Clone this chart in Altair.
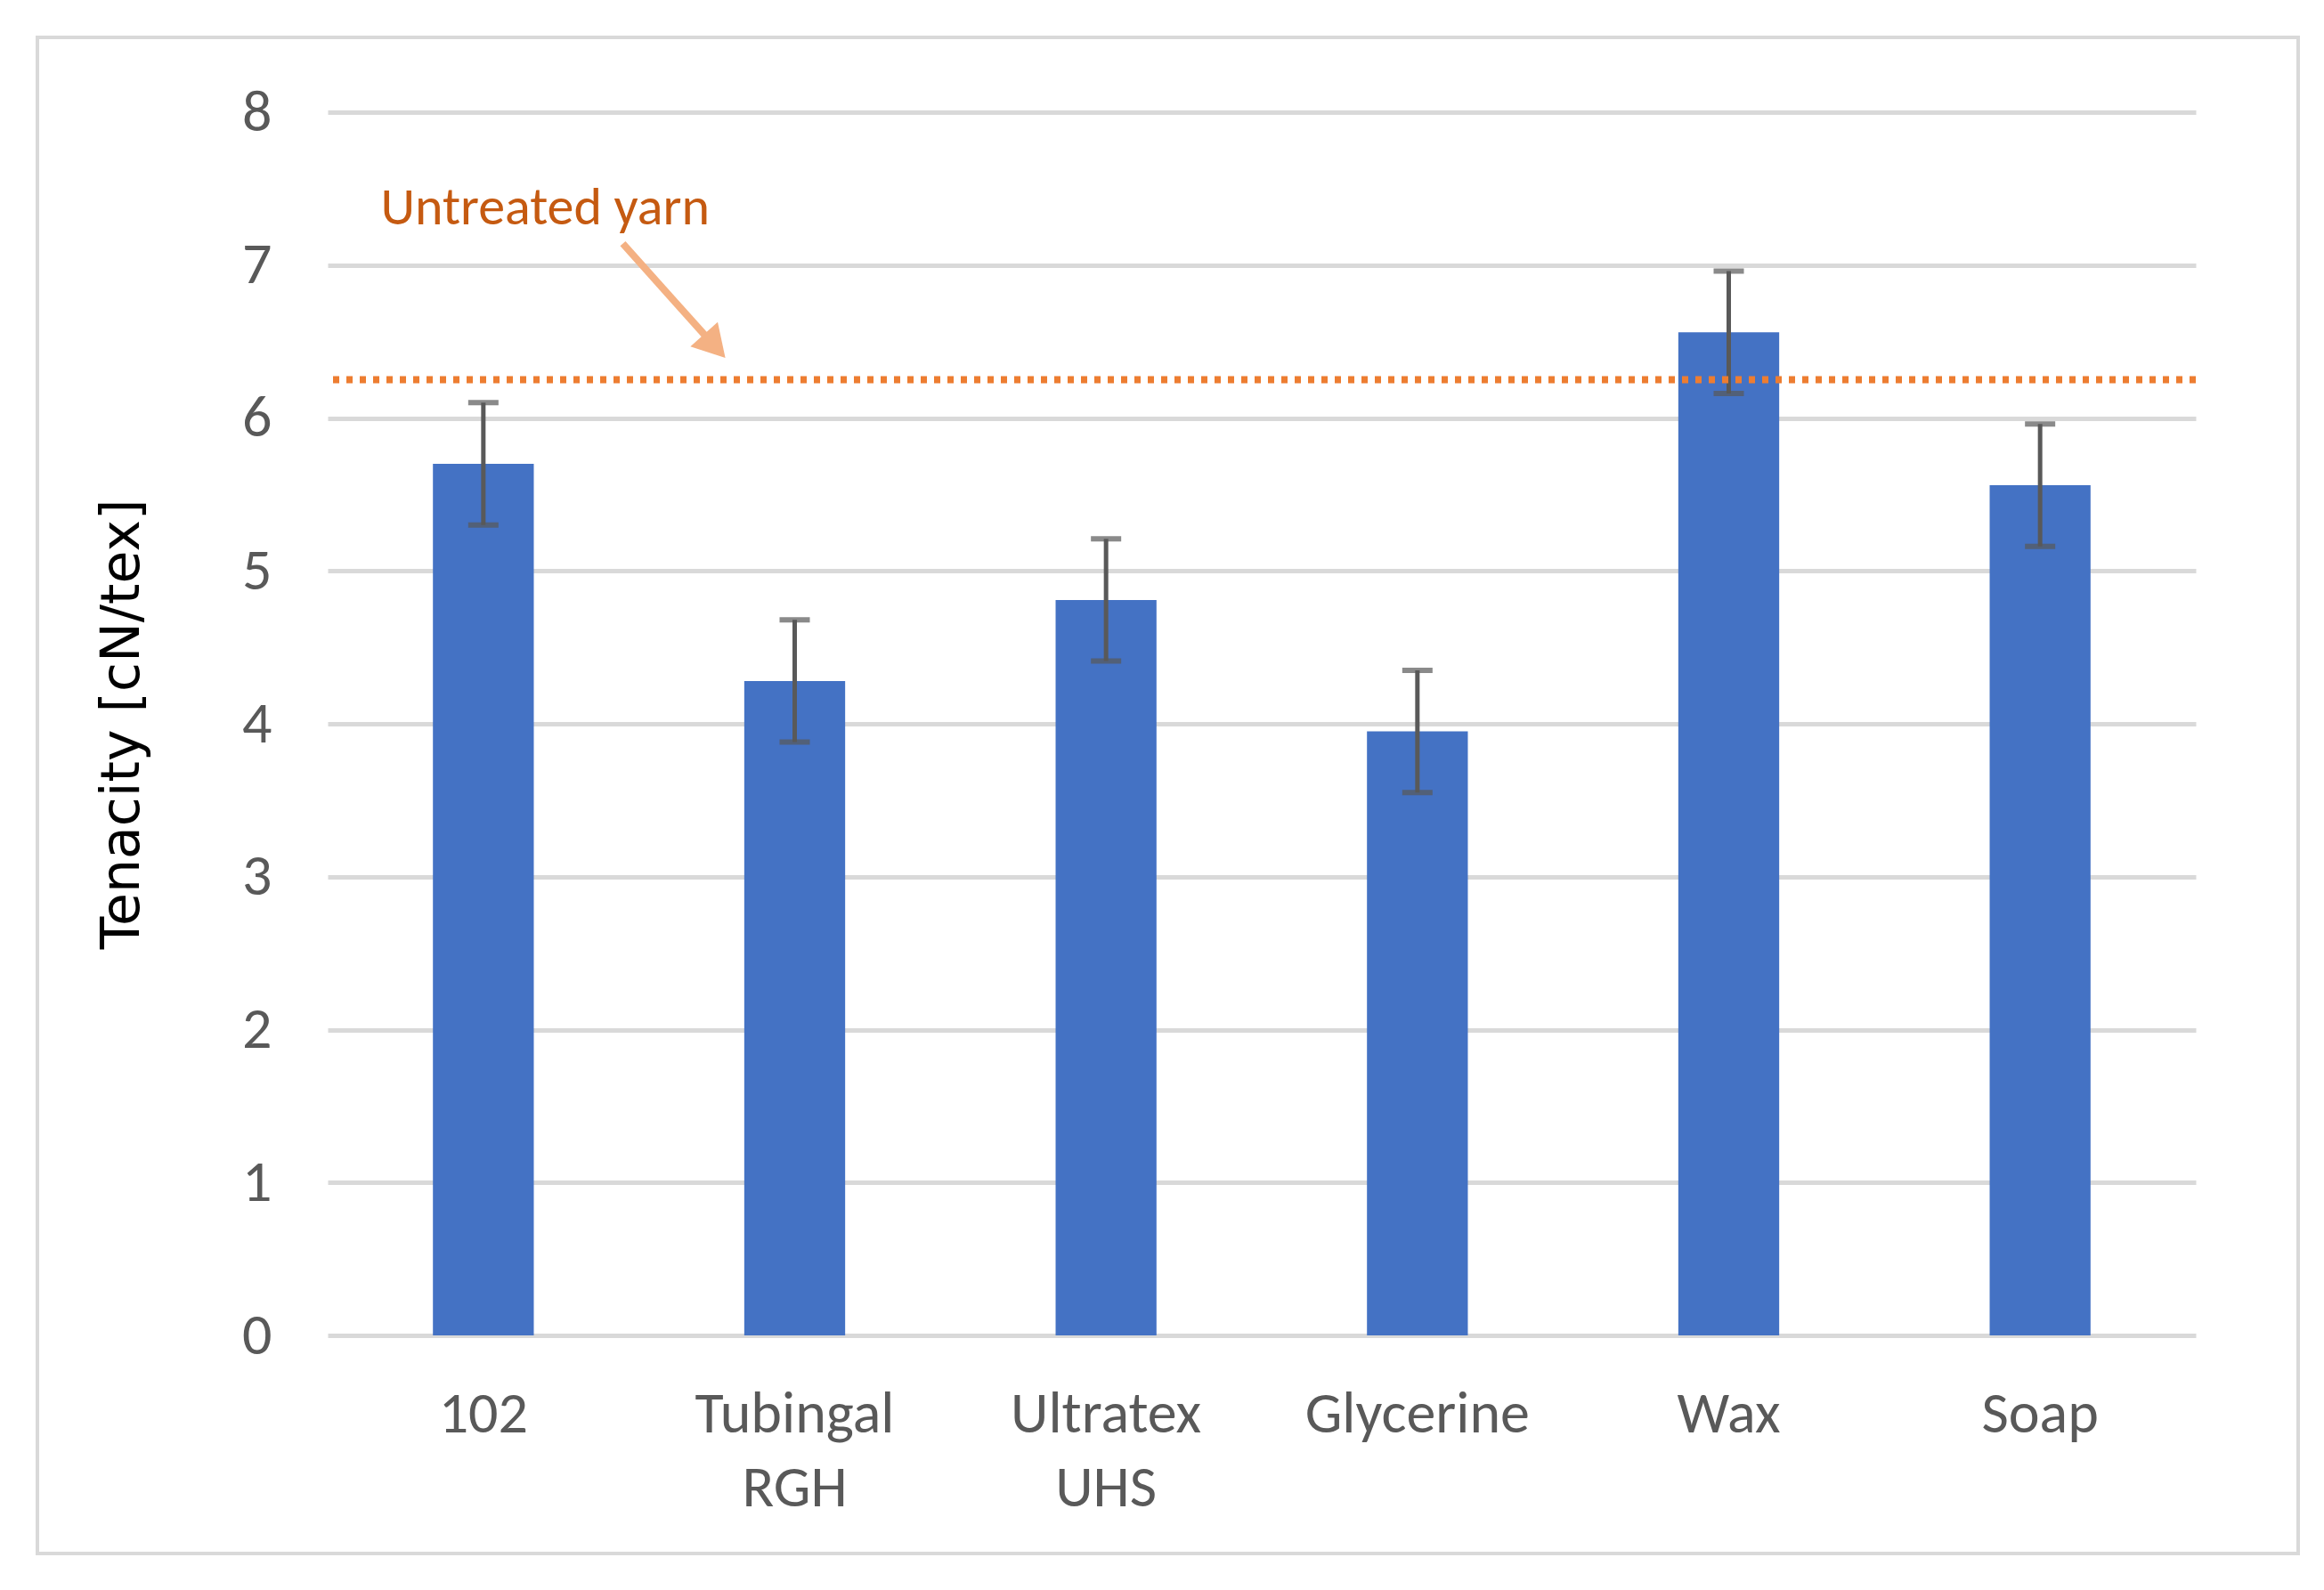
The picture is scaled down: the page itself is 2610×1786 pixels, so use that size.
import altair as alt
import pandas as pd

# ---- data ----
categories = ["102", "Tubingal RGH", "Ultratex UHS", "Glycerine", "Wax", "Soap"]
tenacity = [5.70, 4.28, 4.81, 3.95, 6.56, 5.56]
error = [0.40, 0.40, 0.40, 0.40, 0.40, 0.40]
untreated_value = 6.25
y_ticks = [0, 1, 2, 3, 4, 5, 6, 7, 8]

# annotation (in category-index units on x, data units on y)
label_text = ["Untreated yarn"]
label_x = [0.17]
label_y = [7.37]
arrow_x1, arrow_y1 = [0.948], [7.14]
arrow_x2, arrow_y2 = [1.243], [6.47]

df = pd.DataFrame({"cat": categories, "val": tenacity, "err": error})
df["lo"] = df["val"] - df["err"]
df["hi"] = df["val"] + df["err"]

W, H = 2098, 1374
LABEL_FONT = "Carlito, 'Liberation Sans Narrow', 'Open Sans', sans-serif"
GREY = "#595959"

yscale = alt.Scale(domain=[0, 8], nice=False)
xband = alt.Scale(paddingInner=0.676, paddingOuter=0.338)
xann = alt.Scale(domain=[0, 6], nice=False, zero=False)

x_enc = alt.X(
    "cat:N",
    sort=categories,
    scale=xband,
    title=None,
    axis=alt.Axis(
        labelExpr="split(datum.label, ' ')",
        labelAngle=0,
        labelFont=LABEL_FONT,
        labelFontSize=66,
        labelColor=GREY,
        labelLineHeight=83,
        labelBaseline="top",
        labelPadding=56,
        labelLimit=0,
        ticks=False,
        domain=False,
        grid=False,
    ),
)

y_axis = alt.Axis(
    values=y_ticks,
    format="d",
    title="Tenacity [cN/tex]",
    titleFont="DejaVu Sans",
    titleFontSize=60,
    titleFontWeight="normal",
    titleColor="#000000",
    titleX=-231,
    titleBaseline="middle",
    labelFont=LABEL_FONT,
    labelFontSize=66,
    labelColor=GREY,
    labelPadding=63,
    ticks=False,
    domain=False,
    grid=True,
    gridColor="#D9D9D9",
    gridWidth=5,
)

base = alt.Chart(df)

bars = base.mark_bar(color="#4472C4").encode(
    x=x_enc,
    y=alt.Y("val:Q", scale=yscale, axis=y_axis),
)

stems = base.mark_rule(color=GREY, strokeWidth=5).encode(
    x=alt.X("cat:N", sort=categories, scale=xband),
    y=alt.Y("lo:Q", scale=yscale),
    y2="hi:Q",
)

caps_lo = base.mark_tick(color=GREY, thickness=6, size=34).encode(
    x=alt.X("cat:N", sort=categories, scale=xband),
    y=alt.Y("lo:Q", scale=yscale),
)
caps_hi = base.mark_tick(color=GREY, thickness=6, size=34).encode(
    x=alt.X("cat:N", sort=categories, scale=xband),
    y=alt.Y("hi:Q", scale=yscale),
)

ref = alt.Chart(pd.DataFrame({"y": [untreated_value]})).mark_rule(
    color="#ED7D31", strokeWidth=8, strokeDash=[7, 8], strokeCap="butt"
).encode(y=alt.Y("y:Q", scale=yscale))

ann_df = pd.DataFrame({
    "x1": arrow_x1, "y1": arrow_y1, "x2": arrow_x2, "y2": arrow_y2,
})
shaft = alt.Chart(ann_df).mark_rule(color="#F4B183", strokeWidth=8).encode(
    x=alt.X("x1:Q", scale=xann, axis=None),
    x2="x2:Q",
    y=alt.Y("y1:Q", scale=yscale),
    y2="y2:Q",
)
head = alt.Chart(ann_df).mark_point(
    shape="triangle-up", filled=True, size=1700, angle=138,
    color="#F4B183", opacity=1,
).encode(
    x=alt.X("x2:Q", scale=xann, axis=None),
    y=alt.Y("y2:Q", scale=yscale),
)

label = alt.Chart(pd.DataFrame({"t": label_text, "x": label_x, "y": label_y})).mark_text(
    align="left", baseline="middle", font=LABEL_FONT, fontSize=60, color="#C55A11"
).encode(
    x=alt.X("x:Q", scale=xann, axis=None),
    y=alt.Y("y:Q", scale=yscale),
    text="t:N",
)

border = alt.Chart(pd.DataFrame({"a": [0]})).mark_rect(
    fill=None, fillOpacity=0, stroke="#D9D9D9", strokeWidth=4
).encode(
    x=alt.value(-326), x2=alt.value(2213), y=alt.value(-84), y2=alt.value(1619)
)

main = alt.layer(bars, stems, caps_lo, caps_hi, ref)
ann = alt.layer(shaft, head, label, border)

chart = alt.layer(main, ann).resolve_scale(x="independent").properties(
    width=W,
    height=H,
    padding={"left": 360, "top": 118, "right": 130, "bottom": 270},
    autosize=alt.AutoSizeParams(type="none"),
    background="white",
).configure_view(stroke=None)

chart.save("out.html", embed_options={"renderer": "svg", "actions": False})
